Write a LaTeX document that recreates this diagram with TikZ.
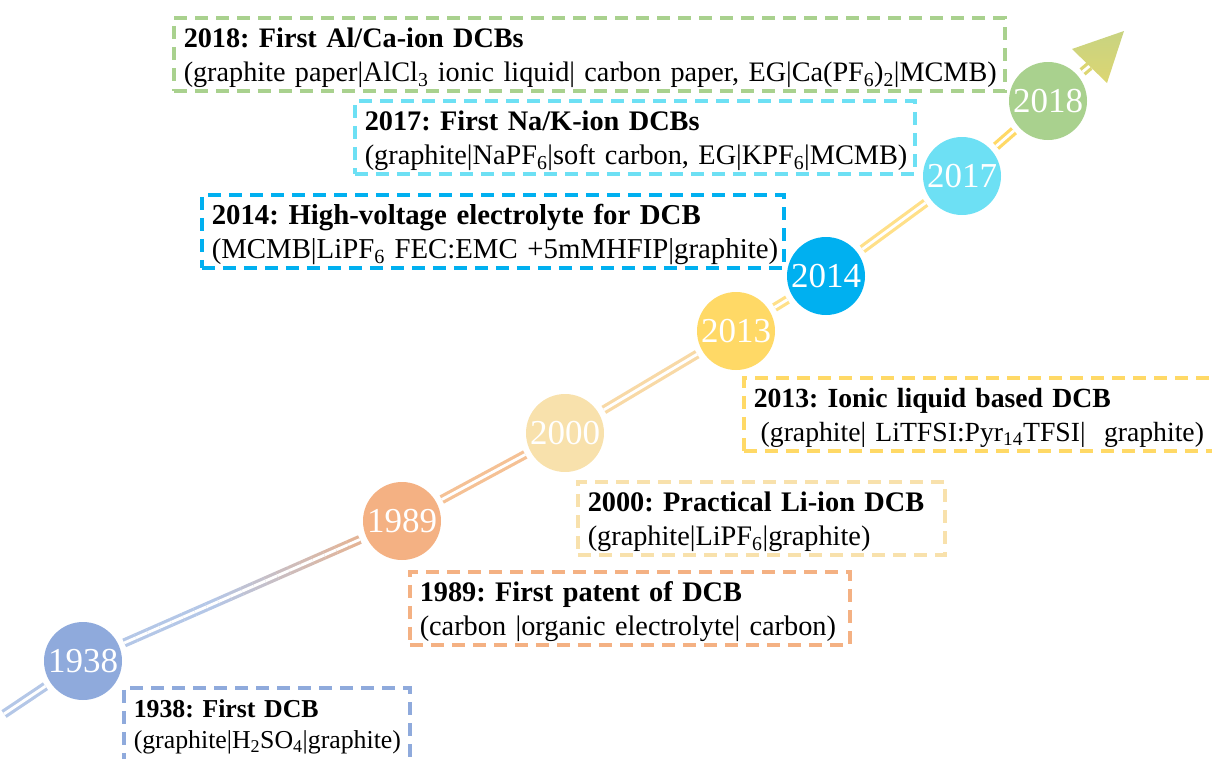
\documentclass[tikz,border=0pt]{standalone}
\usepackage{fontspec}
\setmainfont{Liberation Serif}
\usetikzlibrary{calc}
\frenchspacing
\definecolor{c38}{HTML}{8FAADC}
\definecolor{c89}{HTML}{F4B183}
\definecolor{c00}{HTML}{F8E1AC}
\definecolor{c13}{HTML}{FFD966}
\definecolor{c14}{HTML}{00B0F0}
\definecolor{c17}{HTML}{6DE0F4}
\definecolor{c18}{HTML}{A9D18E}
\definecolor{l38}{HTML}{B4C7E7}
\definecolor{l89a}{HTML}{E3B497}
\definecolor{l89}{HTML}{F5C195}
\definecolor{l00}{HTML}{F8D9A6}
\definecolor{l13}{HTML}{FFE089}
\definecolor{arrA}{HTML}{C8D381}
\definecolor{arrB}{HTML}{DCD672}
\newcommand\evtext[3][9pt]{\mbox{\rule{0pt}{30pt}\textbf{#2}}\\\mbox{#3\rule[-#1]{0pt}{#1}}}
\newcommand\evsize[1]{\fontsize{#1}{34}\selectfont}
\begin{document}
\begin{tikzpicture}[x=1pt,y=-1pt,
  yearc/.style={circle, fill=#1, minimum size=78pt, inner sep=0pt, text=white, font=\fontsize{35}{35}\selectfont},
  evbox/.style={draw=#1, line width=3.5pt, dash pattern=on 13pt off 8pt, anchor=north west, inner xsep=10pt, inner ysep=0pt, align=left, font=\evsize{28.3}},
  dl/.style={draw=#1, double=white, double distance=2.8pt, line width=3.2pt, shorten <=6pt, shorten >=6pt},
]
\path[use as bounding box] (0,0) rectangle (1212,758);
\clip (0,0) rectangle (1212,758);

% year circles
\node[yearc=c38] (y38) at (83,661) {1938};
\node[yearc=c89] (y89) at (402,521) {1989};
\node[yearc=c00] (y00) at (565,433) {2000};
\node[yearc=c13] (y13) at (736,331) {2013};
\node[yearc=c14] (y14) at (826,276) {2014};
\node[yearc=c17] (y17) at (962,176) {2017};
\node[yearc=c18] (y18) at (1048,101) {2018};

% timeline
\coordinate (start) at (4,714);
\draw[dl=l38, shorten <=0pt] (start) -- (y38);
\coordinate (g1) at ($(y38)!45pt!(y89)$);
\coordinate (g2) at ($(y89)!46pt!(y38)$);
\foreach \i in {0,...,19}{
  \pgfmathtruncatemacro\p{min(100,max(0,(\i-7)*100/12))}
  \pgfmathsetmacro\fa{\i/20}
  \pgfmathsetmacro\fb{(\i+1)/20}
  \colorlet{mixc}{l89a!\p!l38}
  \draw[dl=mixc, shorten <=0pt, shorten >=0pt] ($(g1)!\fa!(g2)$) -- ($(g1)!\fb!(g2)$);
}
\draw[dl=l89] (y89) -- (y00);
\draw[dl=l00] (y00) -- (y13);
\draw[dl=l13] (y13) -- (y14);
\draw[dl=l13] (y14) -- (y17);
\draw[dl=c13] (y17) -- (y18);

% arrow head
\coordinate (tip) at (1124,31);
\coordinate (bl) at (1072,49);
\coordinate (br) at (1107,83);
\coordinate (amid) at ($(bl)!0.5!(br)$);
\draw[dl=arrB, shorten >=0pt] (y18) -- (amid);
\shade[top color=arrA, bottom color=arrB] (tip) -- (bl) -- (br) -- cycle;

% event boxes
\node[evbox=c18, font=\evsize{28.2}, text width=811pt] (b18) at (172,16)
  {\evtext{2018: First Al/Ca-ion DCBs}{(graphite paper|AlCl\textsubscript{3} ionic liquid| carbon paper, EG|Ca(PF\textsubscript{6})\textsubscript{2}|MCMB)}};
\node[evbox=c17, font=\evsize{28.3}, text width=540pt] (b17) at (353,99)
  {\evtext{2017: First Na/K-ion DCBs}{(graphite|NaPF\textsubscript{6}|soft carbon, EG|KPF\textsubscript{6}|MCMB)}};
\node[evbox=c14, font=\evsize{28.8}, text width=562pt] (b14) at (200,193)
  {\evtext{2014: High-voltage electrolyte for DCB}{(MCMB|LiPF\textsubscript{6} FEC:EMC +5mMHFIP|graphite)}};
\node[evbox=c13, font=\evsize{27.7}, text width=470pt] (b13) at (742,376)
  {\evtext{2013: Ionic liquid based DCB}{\hspace{0.25em}(graphite| LiTFSI:Pyr\textsubscript{14}TFSI|\ \ graphite)}};
\node[evbox=c00, font=\evsize{28.3}, text width=347pt] (b00) at (576,480)
  {\evtext{2000: Practical Li-ion DCB}{(graphite|LiPF\textsubscript{6}|graphite)}};
\node[evbox=c89, font=\evsize{28.3}, text width=420pt] (b89) at (408,570)
  {\evtext{1989: First patent of DCB}{(carbon |organic electrolyte| carbon)}};
\node[evbox=c38, font=\fontsize{25.8}{31}\selectfont, text width=266pt] (b38) at (122,686)
  {\evtext[16pt]{1938: First DCB}{(graphite|H\textsubscript{2}SO\textsubscript{4}|graphite)}};
\end{tikzpicture}
\end{document}
